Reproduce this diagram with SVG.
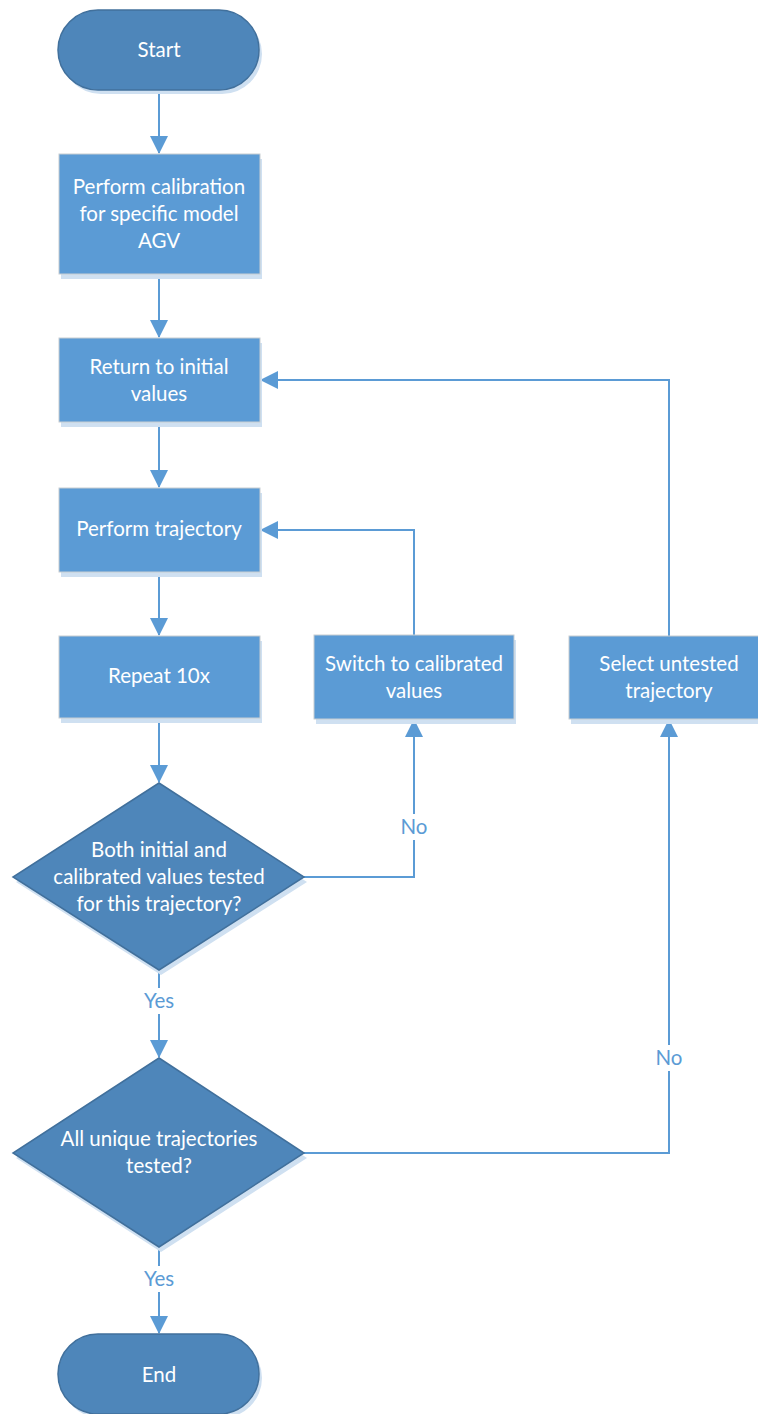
<svg xmlns="http://www.w3.org/2000/svg" width="758" height="1414" viewBox="0 0 758 1414">
<style>
.term{fill:#4E86BA;stroke:#41709C;stroke-width:1.5}
.proc{fill:#5B9BD5;stroke:#C8CDD2;stroke-width:1}
.dec{fill:#4E86BA;stroke:#41709C;stroke-width:1.5}
.shadow{fill:#CFE0F1}
.t{font-family:Lato,"Liberation Sans",sans-serif;font-size:20.5px;fill:#FFFFFF;text-anchor:middle}
.lbl{font-family:Lato,"Liberation Sans",sans-serif;font-size:20.5px;fill:#5B9BD5;text-anchor:middle}
.c{fill:none;stroke:#5B9BD5;stroke-width:2}
</style>
<defs>
<marker id="arr" markerWidth="18" markerHeight="18" refX="17" refY="9" orient="auto" markerUnits="userSpaceOnUse">
<path d="M0,0 L18,9 L0,18 Z" fill="#5B9BD5"/>
</marker>
</defs>
<g id="connectors">
<path class="c" d="M159,90 V153" marker-end="url(#arr)"/>
<path class="c" d="M159,274 V337" marker-end="url(#arr)"/>
<path class="c" d="M159,422 V487" marker-end="url(#arr)"/>
<path class="c" d="M159,572 V635" marker-end="url(#arr)"/>
<path class="c" d="M159,718 V782" marker-end="url(#arr)"/>
<path class="c" d="M304,877 H414 V720" marker-end="url(#arr)"/>
<path class="c" d="M414,635 V530 H261" marker-end="url(#arr)"/>
<path class="c" d="M159,970 V1057" marker-end="url(#arr)"/>
<path class="c" d="M304,1153 H669 V720" marker-end="url(#arr)"/>
<path class="c" d="M669,636 V380 H261" marker-end="url(#arr)"/>
<path class="c" d="M159,1247 V1333" marker-end="url(#arr)"/>
<rect x="396" y="814" width="36" height="26" fill="#FFFFFF"/>
<text class="lbl" x="414" y="834">No</text>
<rect x="139" y="988" width="40" height="26" fill="#FFFFFF"/>
<text class="lbl" x="159" y="1008">Yes</text>
<rect x="651" y="1045" width="36" height="26" fill="#FFFFFF"/>
<text class="lbl" x="669" y="1065">No</text>
<rect x="139" y="1266" width="40" height="26" fill="#FFFFFF"/>
<text class="lbl" x="159" y="1286">Yes</text>
</g>
<g id="start">
<rect class="shadow" x="61" y="14" width="201" height="80" rx="40"/>
<rect class="term" x="58" y="10" width="201" height="80" rx="40"/>
<text class="t" x="159" y="57">Start</text>
</g>
<g id="calibration">
<rect class="shadow" x="61" y="159" width="201" height="120"/>
<rect class="proc" x="59" y="154" width="201" height="120"/>
<text class="t" x="159" y="194">Perform calibration</text>
<text class="t" x="159" y="221">for specific model</text>
<text class="t" x="159" y="248">AGV</text>
</g>
<g id="return-initial">
<rect class="shadow" x="61" y="343" width="201" height="84"/>
<rect class="proc" x="59" y="338" width="201" height="84"/>
<text class="t" x="159" y="374">Return to initial</text>
<text class="t" x="159" y="401">values</text>
</g>
<g id="perform-trajectory">
<rect class="shadow" x="61" y="493" width="201" height="84"/>
<rect class="proc" x="59" y="488" width="201" height="84"/>
<text class="t" x="159" y="536">Perform trajectory</text>
</g>
<g id="repeat">
<rect class="shadow" x="61" y="641" width="201" height="82"/>
<rect class="proc" x="59" y="636" width="201" height="82"/>
<text class="t" x="159" y="683">Repeat 10x</text>
</g>
<g id="switch-calibrated">
<rect class="shadow" x="316" y="640" width="200" height="84"/>
<rect class="proc" x="314" y="635" width="200" height="84"/>
<text class="t" x="414" y="671">Switch to calibrated</text>
<text class="t" x="414" y="698">values</text>
</g>
<g id="select-untested">
<rect class="shadow" x="571" y="641" width="190" height="83"/>
<rect class="proc" x="569" y="636" width="190" height="83"/>
<text class="t" x="669" y="671">Select untested</text>
<text class="t" x="669" y="698">trajectory</text>
</g>
<g id="both-tested">
<polygon class="shadow" points="161,788 307,882 161,975 16,882"/>
<polygon class="dec" points="159,783 304,877 159,970 13,877"/>
<text class="t" x="159" y="857">Both initial and</text>
<text class="t" x="159" y="884">calibrated values tested</text>
<text class="t" x="159" y="911">for this trajectory?</text>
</g>
<g id="all-tested">
<polygon class="shadow" points="161,1063 307,1158 161,1252 16,1158"/>
<polygon class="dec" points="159,1058 304,1153 159,1247 13,1153"/>
<text class="t" x="159" y="1146">All unique trajectories</text>
<text class="t" x="159" y="1173">tested?</text>
</g>
<g id="end">
<rect class="shadow" x="61" y="1338" width="201" height="80" rx="40"/>
<rect class="term" x="58" y="1334" width="201" height="80" rx="40"/>
<text class="t" x="159" y="1382">End</text>
</g>
</svg>
